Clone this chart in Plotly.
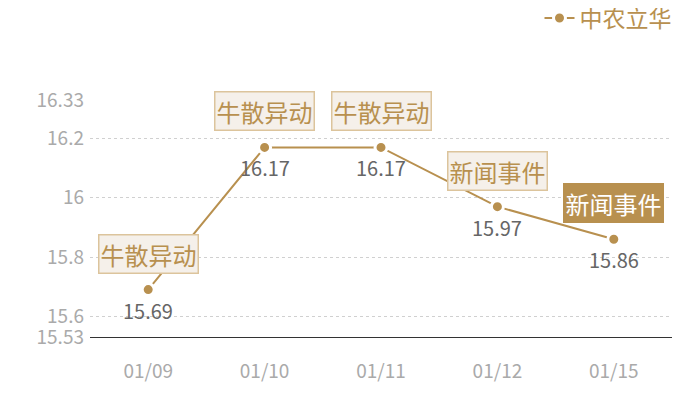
import plotly.graph_objects as go

dates = ['01/09', '01/10', '01/11', '01/12', '01/15']
prices = [15.69, 16.17, 16.17, 15.97, 15.86]
events = ['牛散异动', '牛散异动', '牛散异动', '新闻事件', '新闻事件']
y_ticks = [15.53, 15.6, 15.8, 16, 16.2, 16.33]
y_tick_text = ['15.53', '15.6', '15.8', '16', '16.2', '16.33']

GOLD = '#b8904f'
FONT = 'Noto Sans CJK SC'

fig = go.Figure()
fig.add_trace(go.Scatter(
    x=dates,
    y=prices,
    name='中农立华',
    mode='lines+markers',
    line=dict(color=GOLD, width=2),
    marker=dict(size=12, color=GOLD, line=dict(color='white', width=3)),
))

for i, (d, p, ev) in enumerate(zip(dates, prices, events)):
    last = i == len(dates) - 1
    # event box above the point, last one filled
    fig.add_annotation(
        x=d, y=p, text=ev, showarrow=False,
        yanchor='bottom', yshift=16,
        font=dict(size=24, color='white' if last else GOLD, family=FONT),
        bgcolor=GOLD if last else '#f5f0ea',
        bordercolor=GOLD if last else '#dcc49c',
        borderwidth=1.5, borderpad=1,
    )
    # price label under the point
    fig.add_annotation(
        x=d, y=p, text=f'{p:.2f}', showarrow=False,
        yanchor='top', yshift=-4,
        font=dict(size=20, color='#666666', family=FONT),
    )

fig.update_layout(
    width=700, height=400,
    margin=dict(l=82, r=36, t=92, b=71),
    paper_bgcolor='white', plot_bgcolor='white',
    font=dict(family=FONT),
    showlegend=True,
    legend=dict(
        orientation='h', xref='container', yref='container',
        x=0.955, y=0.975, xanchor='right', yanchor='middle',
        font=dict(size=23, color=GOLD, family=FONT),
        bgcolor='rgba(0,0,0,0)',
    ),
    xaxis=dict(
        type='category', range=[-0.5, 4.5], automargin=False,
        showgrid=False, showline=True, linecolor='#333333', linewidth=1,
        ticks='', tickfont=dict(size=19, color='#aaaaaa', family=FONT),
        ticklabelstandoff=17,
    ),
    yaxis=dict(
        range=[15.53, 16.33], automargin=False,
        tickvals=y_ticks, ticktext=y_tick_text,
        showgrid=True, gridcolor='#d0d0d0', griddash='dot', gridwidth=1,
        zeroline=False, showline=False, ticks='',
        tickfont=dict(size=19, color='#aaaaaa', family=FONT),
        ticklabelstandoff=5,
    ),
)

fig.write_html("out.html")
